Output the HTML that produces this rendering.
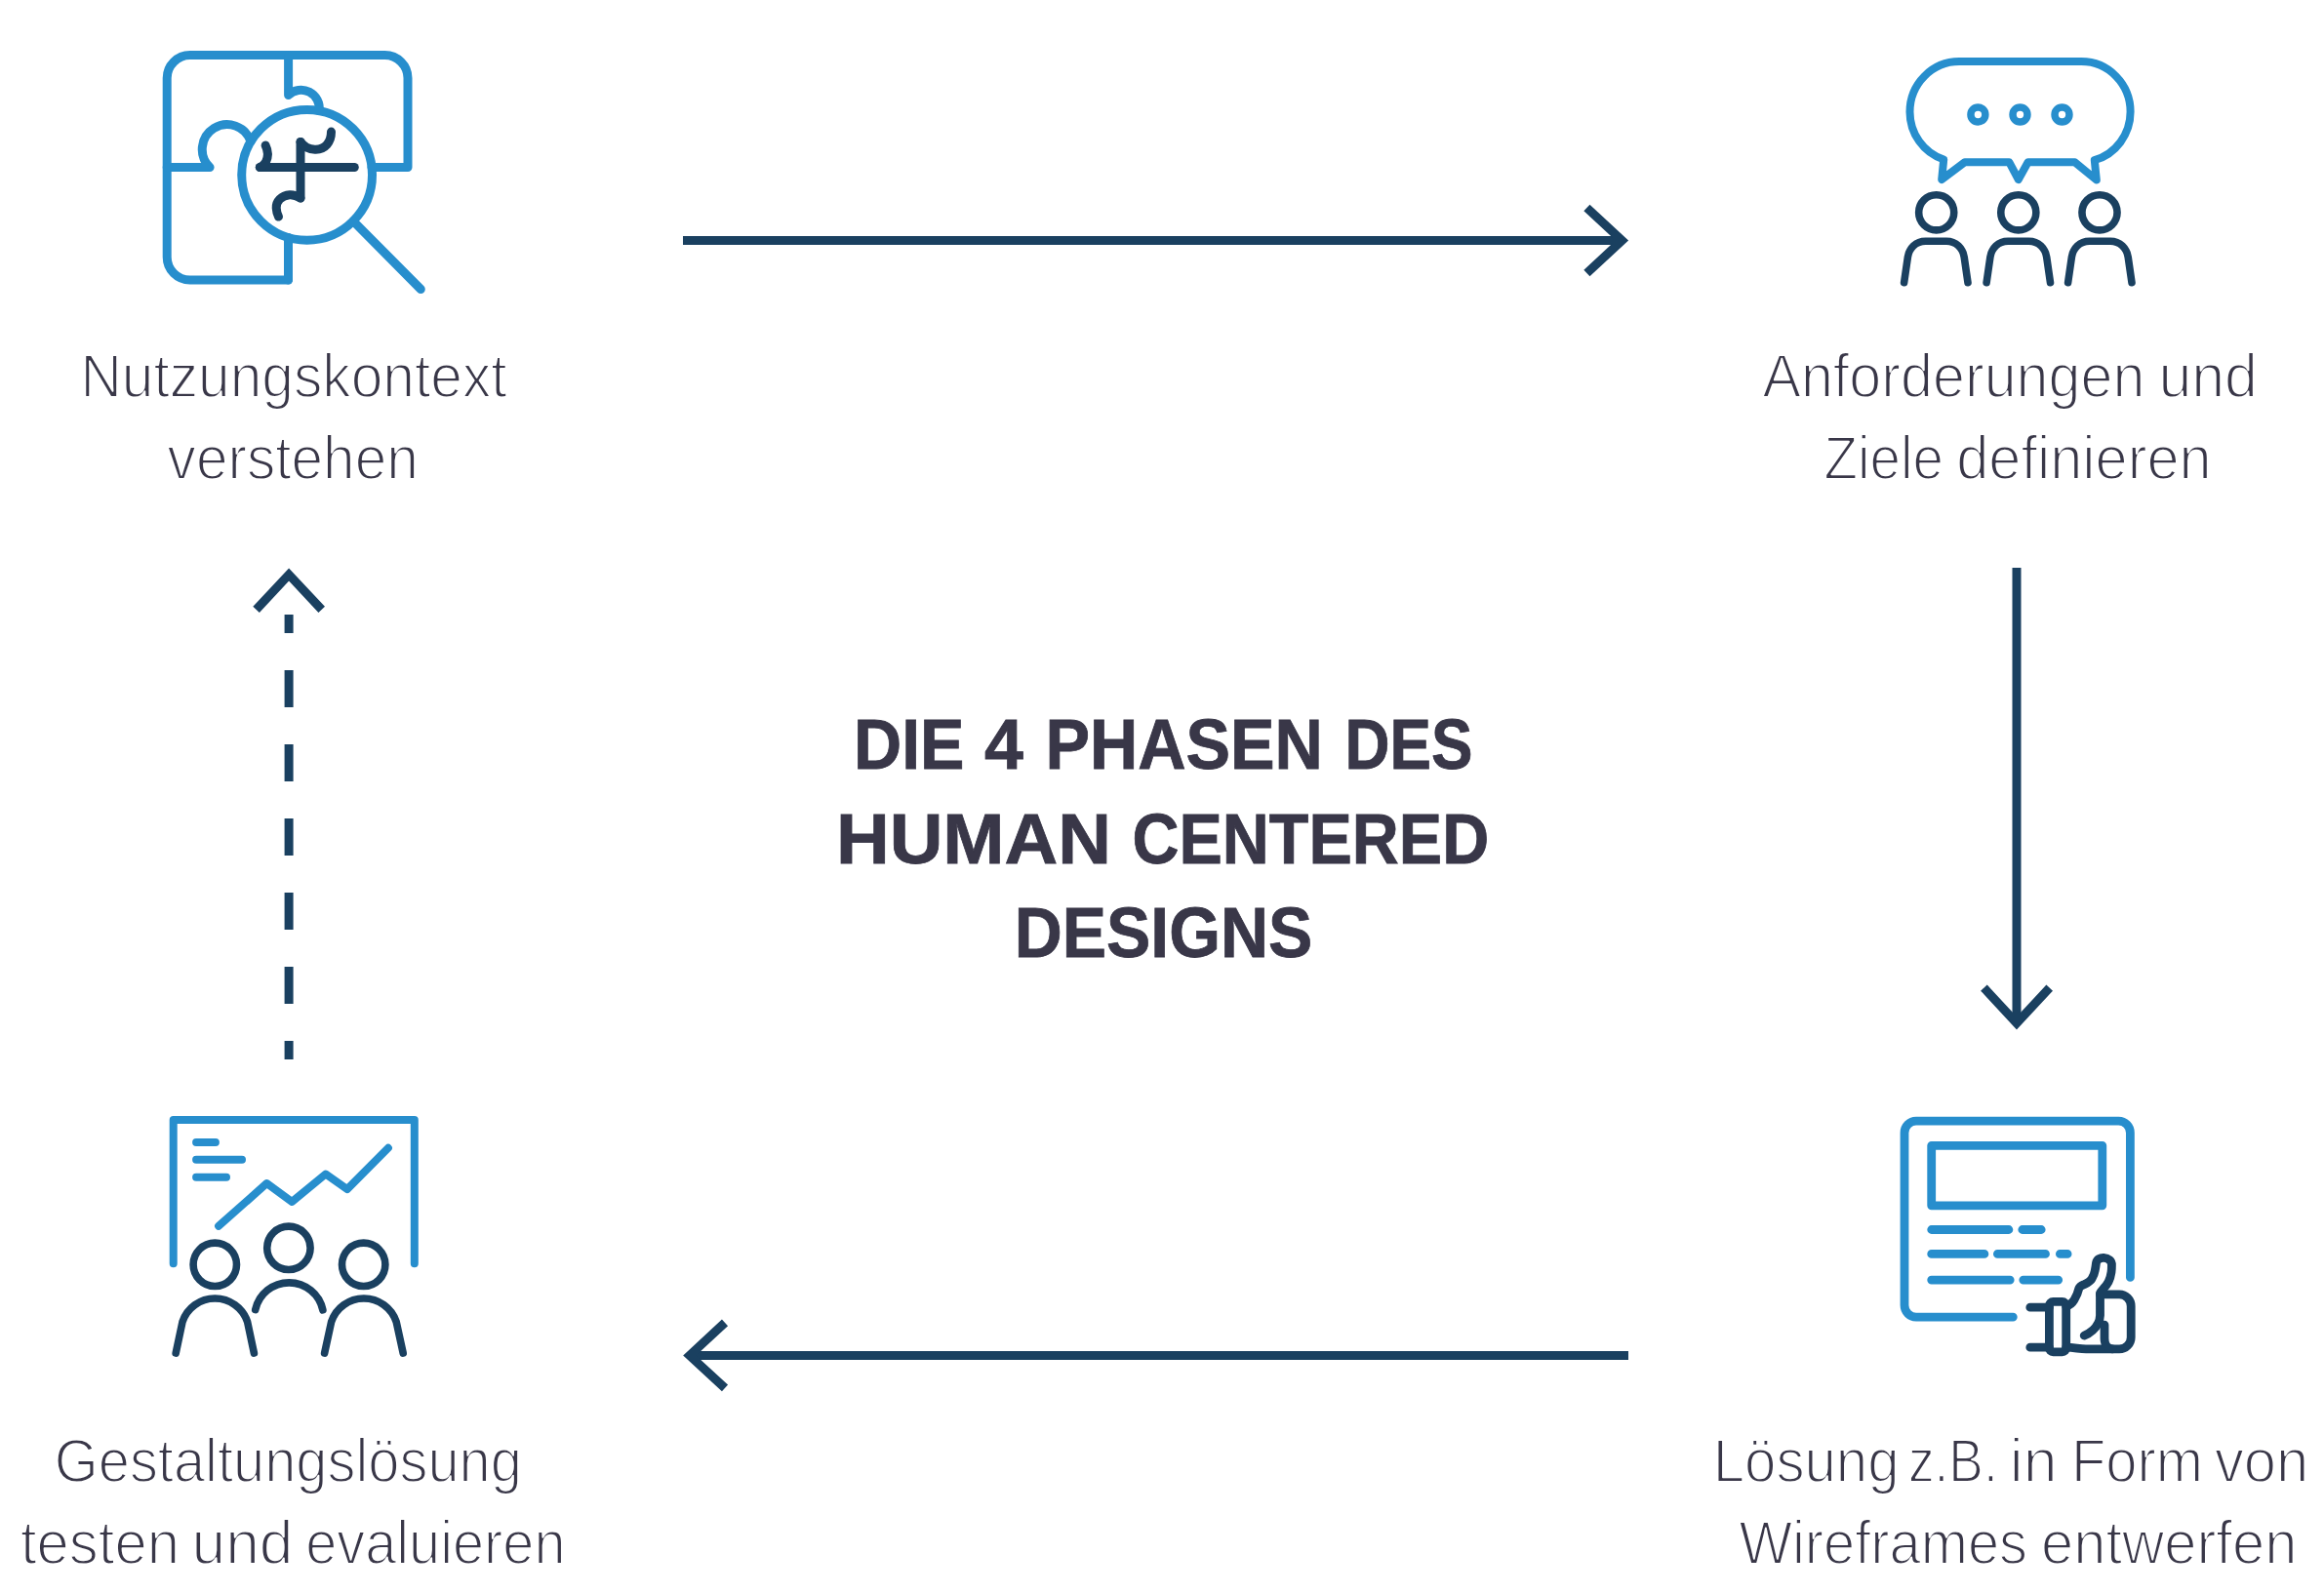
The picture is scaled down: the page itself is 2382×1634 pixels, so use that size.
<!DOCTYPE html>
<html lang="de">
<head>
<meta charset="utf-8">
<title>Die 4 Phasen des Human Centered Designs</title>
<style>
  html, body { margin: 0; padding: 0; background: #ffffff; }
  body { width: 2382px; height: 1634px; overflow: hidden; }
  svg { display: block; }
  .lbl { font-family: "Liberation Sans", sans-serif; font-size: 62.4px; fill: #393748; stroke: #ffffff; stroke-width: 1.9px; stroke-linejoin: round; }
  .ttl { font-family: "Liberation Sans", sans-serif; font-weight: 700; font-size: 71.5px; fill: #393748; stroke: #393748; stroke-width: 0.8px; stroke-linejoin: miter; }
  .nv { fill: none; stroke: #1a4060; stroke-width: 9; }
  .bl { fill: none; stroke: #278ecd; stroke-width: 8.8; stroke-linecap: round; stroke-linejoin: round; }
  .dk { fill: none; stroke: #1a4060; stroke-width: 8.8; stroke-linecap: round; stroke-linejoin: round; }
</style>
</head>
<body>
<svg width="2382" height="1634" viewBox="0 0 2382 1634">
  <rect x="0" y="0" width="2382" height="1634" fill="#ffffff"/>

  <!-- ARROWS -->
  <g class="nv" id="arrows">
    <path d="M700 246.5H1662"/>
    <path d="M1626.4 213L1662.5 246.5L1626.4 280"/>
    <path d="M2067 582V1048"/>
    <path d="M2033.4 1012.6L2067 1048.9L2100.7 1012.6"/>
    <path d="M1669 1389.5H707"/>
    <path d="M743 1355.9L706.8 1389.5L743 1422.9"/>
    <path d="M296.1 630V1086" stroke-dasharray="38 38" stroke-dashoffset="19"/>
    <path d="M262.6 624.9L296.1 589L329.7 624.9"/>
  </g>

  <!-- TITLE -->
  <g class="ttl" id="title">
    <text id="t1" y="788.4"><tspan x="875.0" textLength="113.5" lengthAdjust="spacingAndGlyphs">DIE</tspan> <tspan x="1009.1" textLength="39.9" lengthAdjust="spacingAndGlyphs">4</tspan> <tspan x="1071.4" textLength="284.5" lengthAdjust="spacingAndGlyphs">PHASEN</tspan> <tspan x="1378.6" textLength="131.0" lengthAdjust="spacingAndGlyphs">DES</tspan></text>
    <text id="t2" y="884.7"><tspan x="856.9" textLength="282.1" lengthAdjust="spacingAndGlyphs">HUMAN</tspan> <tspan x="1160.4" textLength="365.8" lengthAdjust="spacingAndGlyphs">CENTERED</tspan></text>
    <text id="t3" y="980.7"><tspan x="1039.8" textLength="305.4" lengthAdjust="spacingAndGlyphs">DESIGNS</tspan></text>
  </g>
  <g class="lbl" id="labels">
    <text id="a1" y="406.8"><tspan x="82.4" textLength="437.2" lengthAdjust="spacingAndGlyphs">Nutzungskontext</tspan></text>
    <text id="a2" y="490.9"><tspan x="171.6" textLength="257.2" lengthAdjust="spacingAndGlyphs">verstehen</tspan></text>
    <text id="b1" y="406.8"><tspan x="1806.4" textLength="392.0" lengthAdjust="spacingAndGlyphs">Anforderungen</tspan> <tspan x="2212.4" textLength="101.6" lengthAdjust="spacingAndGlyphs">und</tspan></text>
    <text id="b2" y="490.9"><tspan x="1869.4" textLength="122.6" lengthAdjust="spacingAndGlyphs">Ziele</tspan> <tspan x="2005.2" textLength="261.5" lengthAdjust="spacingAndGlyphs">definieren</tspan></text>
    <text id="c1" y="1519.0"><tspan x="1755.7" textLength="190.9" lengthAdjust="spacingAndGlyphs">Lösung</tspan> <tspan x="1955.9" textLength="91.8" lengthAdjust="spacingAndGlyphs">z.B.</tspan> <tspan x="2059.8" textLength="48.8" lengthAdjust="spacingAndGlyphs">in</tspan> <tspan x="2123.0" textLength="135.0" lengthAdjust="spacingAndGlyphs">Form</tspan> <tspan x="2270.0" textLength="96.3" lengthAdjust="spacingAndGlyphs">von</tspan></text>
    <text id="c2" y="1603.0"><tspan x="1782.4" textLength="295.6" lengthAdjust="spacingAndGlyphs">Wireframes</tspan> <tspan x="2092.1" textLength="262.3" lengthAdjust="spacingAndGlyphs">entwerfen</tspan></text>
    <text id="d1" y="1519.0"><tspan x="55.8" textLength="479.1" lengthAdjust="spacingAndGlyphs">Gestaltungslösung</tspan></text>
    <text id="d2" y="1603.0"><tspan x="21.0" textLength="162.9" lengthAdjust="spacingAndGlyphs">testen</tspan> <tspan x="196.6" textLength="103.9" lengthAdjust="spacingAndGlyphs">und</tspan> <tspan x="313.2" textLength="266.3" lengthAdjust="spacingAndGlyphs">evaluieren</tspan></text>
  </g>

  <!-- ICONS -->
  <g id="icon1">
    <g class="bl" style="stroke-width:9">
      <path d="M295.5 287H194.7A23.5 23.5 0 0 1 171.2 263.5V80.1A23.5 23.5 0 0 1 194.7 56.6H394.5A23.5 23.5 0 0 1 418 80.1V171.5H381"/>
      <path d="M295.6 56.6V97.5A18.7 18.7 0 0 1 327.1 113.6"/>
      <path d="M171.2 171.5H215.1A25.5 25.5 0 1 1 257 145.2"/>
      <path d="M295.5 287V243.4"/>
      <circle cx="314.6" cy="179.3" r="66.9"/>
      <path d="M362 226.6L431.3 296.5"/>
    </g>
    <g class="dk" style="stroke-width:9">
      <path d="M266.3 171.5H363.3"/>
      <path d="M308 145.4V203.1"/>
      <path d="M308 145.4C312 151 318 153.5 323.8 153.2C333 153 339.5 146 339.5 135.1"/>
      <path d="M308 203.1C304 200.5 300.5 199.5 296.9 199.7C288.5 200.3 282.8 206.5 283.2 213.3C283.4 216.8 284.3 219.8 285.5 222.1"/>
      <path d="M272.1 149.1C275 155 275 161 272.5 166C271 168.5 268.5 170.5 266.3 171.5"/>
    </g>
  </g>
  <g id="icon2">
    <g class="bl" style="stroke-width:8">
      <path d="M2008.2 63.1H2133.3A50.3 51.5 0 0 1 2183.6 114.6A50.3 51.5 0 0 1 2146.8 164.2L2148.8 184.5L2126.7 166.3H2078.6L2068.8 184L2059.4 166.3H2013.8L1990.2 184L1992.2 163.5A50.7 51.5 0 0 1 1957.5 114.6A50.7 51.5 0 0 1 2008.2 63.1Z"/>
      <g style="stroke-width:7.5">
        <circle cx="2027.4" cy="117.5" r="7.45"/>
        <circle cx="2070.5" cy="117.5" r="7.45"/>
        <circle cx="2113.5" cy="117.5" r="7.45"/>
      </g>
    </g>
    <g class="dk" style="stroke-width:7.6">
      <circle cx="1984.7" cy="217.8" r="18.05"/>
      <circle cx="2068.8" cy="217.8" r="18.05"/>
      <circle cx="2152" cy="217.8" r="18.05"/>
      <path d="M1951.6 289.7L1955.4 263.5C1956.7 254.6 1963.6 247.3 1973.6 247.3H1995.0C2005.0 247.3 2011.9 254.6 2013.2 263.5L2017.0 289.7"/>
      <path d="M2036.1 289.7L2039.9 263.5C2041.2 254.6 2048.1 247.3 2058.1 247.3H2079.5C2089.5 247.3 2096.4 254.6 2097.7 263.5L2101.5 289.7"/>
      <path d="M2119.6 289.7L2123.4 263.5C2124.7 254.6 2131.6 247.3 2141.6 247.3H2163.0C2173.0 247.3 2179.9 254.6 2181.2 263.5L2185.0 289.7"/>
    </g>
  </g>
  <g id="icon3">
    <g class="bl">
      <path d="M2183.4 1309.4V1161.2A12 12 0 0 0 2171.4 1149.2H1964A12 12 0 0 0 1952 1161.2V1338.1A12 12 0 0 0 1964 1350.1H2063.3"/>
      <rect x="1979.7" y="1174.3" width="175.1" height="61.5"/>
      <path d="M1979.7 1260.5H2058.9M2072.8 1260.5H2092.2"/>
      <path d="M1979.7 1285.4H2033.9M2047.4 1285.4H2096.5M2111.4 1285.4H2119.1"/>
      <path d="M1979.7 1312.1H2060.2M2073.8 1312.1H2109.7"/>
    </g>
    <g class="dk">
      <path d="M2080.8 1340.2H2100.4M2080.8 1381.2H2100.4"/>
      <rect x="2100.4" y="1334.4" width="17.3" height="51.4" rx="4" ry="4"/>
      <path d="M2117.7 1339.3C2121 1338.2 2124.4 1335.2 2126 1332.5C2128.5 1328.5 2130 1324.5 2130.9 1320.6C2131.8 1318.2 2134 1317.6 2136.6 1316.5C2140 1314.8 2142.8 1313 2144 1310.8C2145.8 1308 2146.8 1305 2147.2 1302.6C2147.9 1299.5 2148.2 1297 2148.5 1294.5C2149.2 1291 2152.5 1289.2 2156.2 1289.4C2161 1289.6 2164.6 1292.5 2164.4 1296.9C2164.4 1299.5 2164.3 1302 2164 1304.2C2163.5 1307.8 2162.6 1311 2161.1 1314C2159.8 1316.5 2158 1318.8 2156.2 1320.6C2155 1322.2 2153.6 1323.8 2152.5 1325.4V1348.3C2152.4 1351 2151.8 1353.8 2150.5 1356.4C2149.2 1359.2 2147.2 1361.8 2144.8 1363.8C2142.2 1366.2 2139.2 1368 2136.2 1369.1"/>
      <path d="M2152.5 1326.9H2172.2A12 12 0 0 1 2184.2 1338.9V1370.9A12 12 0 0 1 2172.2 1382.9H2138C2131 1382.9 2126 1381.2 2117.7 1381.2"/>
      <path d="M2157 1358.1V1371.9C2157 1378 2160.5 1382.5 2165.2 1382.9"/>
    </g>
  </g>
  <g id="icon4">
    <g class="bl" style="stroke-width:8">
      <path d="M177.7 1295.3V1147.9H424.8V1295.3"/>
      <path d="M201.1 1171.1H220.9M201.1 1188.8H248M201.1 1206.7H232"/>
      <path d="M224.1 1256.8L273.4 1213.1L299.3 1231.9L333.8 1203.5L355.8 1219.1L397.9 1176.8"/>
    </g>
    <g class="dk" style="stroke-width:7.6">
      <circle cx="220.3" cy="1296.3" r="22.2"/>
      <circle cx="295.9" cy="1279.3" r="22.2"/>
      <circle cx="372.7" cy="1296.3" r="22.2"/>
      <path d="M180.2 1387.1L187.0 1355.0A35.1 35.1 0 0 1 253.6 1355.0L260.4 1387.1"/>
      <path d="M261.7 1342.6A35.4 35.4 0 0 1 330.9 1342.9"/>
      <path d="M332.6 1387.1L339.6 1355.0A35.1 35.1 0 0 1 406.2 1355.0L413.2 1387.1"/>
    </g>
  </g>
</svg>
</body>
</html>
